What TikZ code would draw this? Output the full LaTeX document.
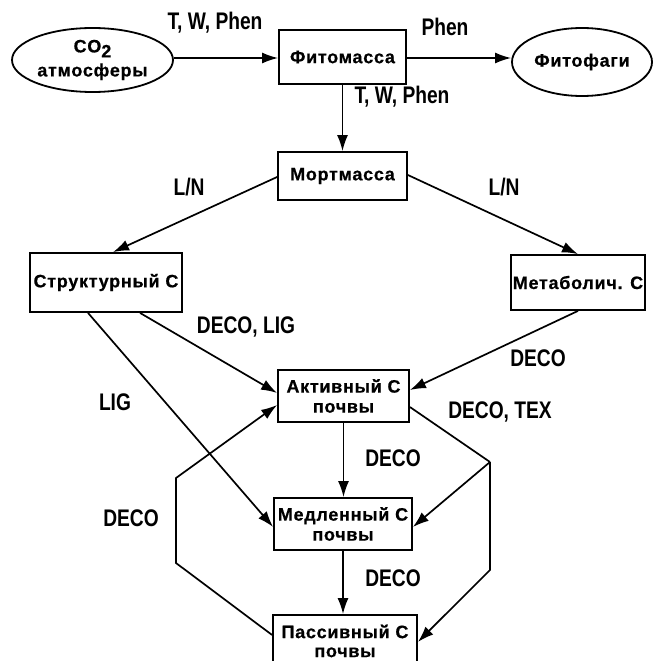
\documentclass[tikz,border=0pt]{standalone}
\usepackage{fontspec}
\setmainfont{Liberation Sans}
\newfontfamily\boxfont{Liberation Sans}[LetterSpace=4,FakeBold=0.6]
\newfontfamily\lblfont{Liberation Sans}[FakeStretch=0.8]
\usetikzlibrary{arrows.meta,shapes.geometric,calc}
\begin{document}
\begin{tikzpicture}[x=1pt,y=-1pt,
  box/.style={draw, line width=1.8pt, inner sep=0pt, align=center,
    font=\boxfont\bfseries\fontsize{18}{20}\selectfont},
  ell/.style={draw, ellipse, line width=1.8pt, inner sep=0pt, align=center,
    font=\boxfont\bfseries\fontsize{18}{24}\selectfont},
  lbl/.style={inner sep=0pt, font=\lblfont\bfseries\fontsize{24}{26}\selectfont},
  arr/.style={line width=1.7pt, -{Latex[length=16pt,width=11pt]}},
  ln/.style={line width=1.7pt}]
\useasboundingbox (0,0) rectangle (653,661);
\clip (0,0) rectangle (653,661);
% nodes
\node[ell, minimum width=161pt, minimum height=64pt] (co2) at (92.5,60) {CO\raisebox{-5pt}{2}\\атмосферы};
\node[box, minimum width=127pt, minimum height=54pt] (fito) at (342.5,57) {Фитомасса};
\node[ell, minimum width=140pt, minimum height=68pt] (fag) at (582,62) {Фитофаги};
\node[box, minimum width=129pt, minimum height=48pt] (mort) at (342.5,176) {Мортмасса};
\node[box, minimum width=152pt, minimum height=59pt] (str) at (106,282.5) {Структурный С};
\node[box, minimum width=134pt, minimum height=55pt] (met) at (578,282.5) {Метаболич. С};
\node[box, minimum width=131pt, minimum height=52pt] (akt) at (343.5,396) {Активный С\\почвы};
\node[box, minimum width=138pt, minimum height=52pt] (med) at (343,524) {Медленный С\\почвы};
\node[box, minimum width=144pt, minimum height=52pt, font=\boxfont\bfseries\fontsize{18}{19}\selectfont] (pas) at (345,641) {Пассивный С\\почвы};
% junction points
\coordinate (j1) at (490,462);
\coordinate (j2) at (490,570);
\coordinate (k1) at (176,563);
\coordinate (k2) at (176,478);
% connectors
\draw[arr] (co2.east |- 0,58) -- (fito.west |- 0,58);
\draw[arr] (fito.east |- 0,58) -- (fag.west |- 0,58);
\draw[arr] (fito.south) -- (mort.north);
\draw[arr] ([yshift=-1pt]mort.west) -- ([xshift=7pt]str.north);
\draw[arr] ([yshift=1pt]mort.east) -- (met.north);
\draw[arr] ([xshift=34pt]str.south) -- ([yshift=3pt]akt.west);
\draw[arr] ([xshift=-18pt]str.south) -- ([yshift=-3pt]med.west);
\draw[arr] (met.south) -- ([yshift=6pt]akt.east);
\draw[arr] (akt.south) -- (akt.south |- med.north);
\draw[arr] (med.south) -- (med.south |- pas.north);
\draw[ln] ([yshift=-11pt]akt.east) -- (j1);
\draw[arr] (j1) -- ([yshift=-3pt]med.east);
\draw[arr] (j1) -- (j2) -- ([yshift=-1pt]pas.east);
\draw[arr] ([yshift=6pt]pas.west) -- (k1) -- (k2) -- ([yshift=-9pt]akt.west);
% labels
\node[lbl] (l1) at (215,23) {T, W, Phen};
\node[lbl] (l2) at (445,27) {Phen};
\node[lbl] (l3) at (402,97) {T, W, Phen};
\node[lbl] (l4) at (189,187) {L/N};
\node[lbl] (l5) at (504,187) {L/N};
\node[lbl] (l6) at (246,327) {DECO, LIG};
\node[lbl] (l7) at (115,402) {LIG};
\node[lbl] (l8) at (538,358) {DECO};
\node[lbl] (l9) at (500,412) {DECO, TEX};
\node[lbl] (l10) at (393,458) {DECO};
\node[lbl] (l11) at (393,578) {DECO};
\node[lbl] (l12) at (131,518) {DECO};
\end{tikzpicture}
\end{document}
